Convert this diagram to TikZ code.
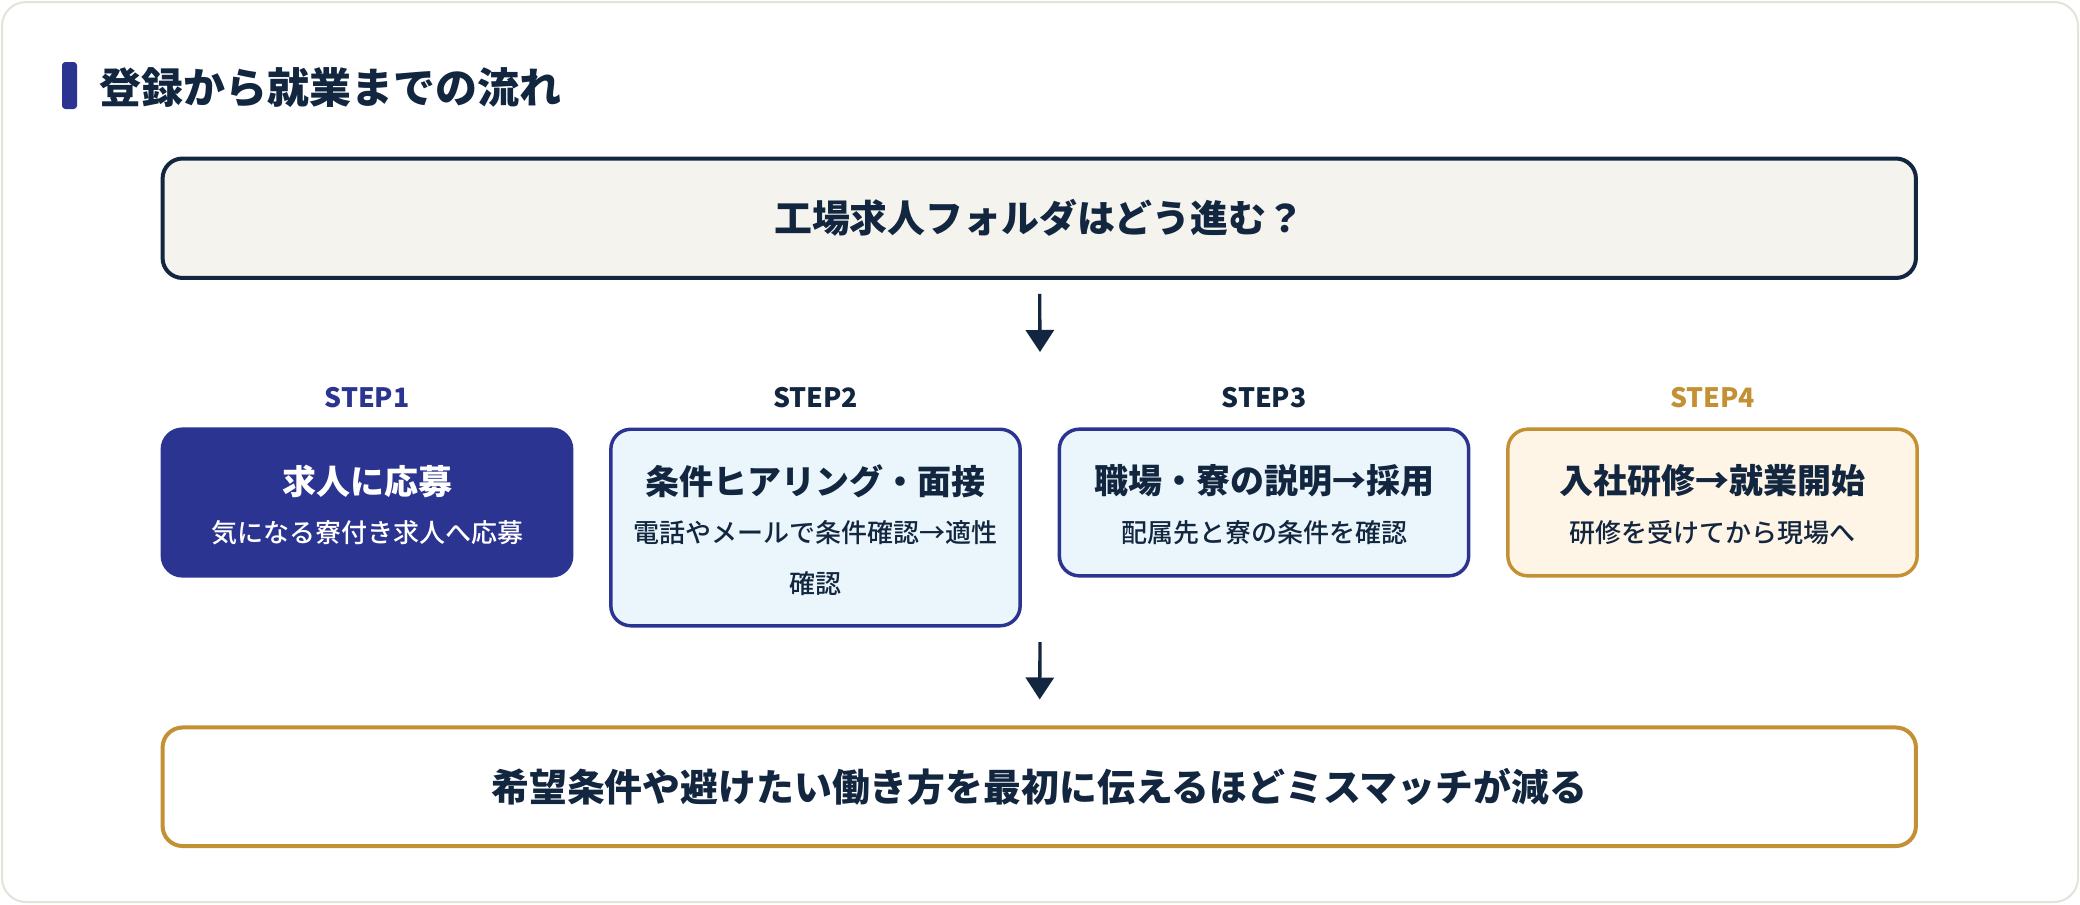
\documentclass[tikz,border=0pt]{standalone}
\usepackage{fontspec}
\setmainfont{Noto Sans CJK JP}
\newfontfamily\jpmed{Noto Sans CJK JP Medium}
\usetikzlibrary{arrows.meta}
\definecolor{navy}{HTML}{12263F}
\definecolor{indigo}{HTML}{2B3491}
\definecolor{gold}{HTML}{C49034}
\definecolor{lightblue}{HTML}{EAF6FC}
\definecolor{cream}{HTML}{FFF5E6}
\definecolor{topfill}{HTML}{F4F3EE}
\definecolor{cardline}{HTML}{E5E2D8}
\tikzset{
  stepbox/.style={rounded corners=15pt, line width=2.6pt, minimum width=307pt, minimum height=110pt, inner sep=0pt},
  widebox/.style={rounded corners=15pt, line width=3pt, minimum width=1315pt, inner sep=0pt, text=navy,
    font=\bfseries\fontsize{28.4pt}{34pt}\selectfont},
  ttl/.style={font=\bfseries\fontsize{25.5pt}{30pt}\selectfont, inner sep=0pt},
  sub/.style={font=\jpmed\fontsize{19.5pt}{38.25pt}\selectfont, inner sep=0pt, align=center},
  steplbl/.style={font=\bfseries\fontsize{20pt}{24pt}\selectfont, inner sep=0pt},
  flow/.style={draw=navy, line width=2.5pt, -{Triangle[length=16.5pt,width=21pt]}},
}
\begin{document}
\begin{tikzpicture}[x=0.75pt,y=-0.75pt]
\fill[white] (0,0) rectangle (2080,904);
\useasboundingbox (0,0) rectangle (2080,904);
% outer card
\draw[cardline, fill=white, line width=1.5pt, rounded corners=18pt] (2,2) rectangle (2078,902);
% heading
\fill[indigo, rounded corners=2.5pt] (62,62) rectangle (77,109);
\node[anchor=west, inner sep=0pt, text=navy, font=\bfseries\fontsize{31.5pt}{36pt}\selectfont] (ht) at (99,88) {登録から就業までの流れ};
% top question box
\node[widebox, draw=navy, fill=topfill, minimum height=89.6pt] (q) at (1039.25,218.25) {工場求人フォルダはどう進む？};
% step labels
\node[steplbl, text=indigo] (l1) at (367,398) {STEP1};
\node[steplbl, text=navy] (l2) at (815.5,398) {STEP2};
\node[steplbl, text=navy] (l3) at (1264,398) {STEP3};
\node[steplbl, text=gold] (l4) at (1712.5,398) {STEP4};
% step boxes
\node[stepbox, draw=indigo, fill=indigo] (s1) at (367,502.5) {};
\node[stepbox, draw=indigo, fill=lightblue, minimum height=147.4pt] (s2) at (815.5,527.5) {};
\node[stepbox, draw=indigo, fill=lightblue] (s3) at (1264,502.5) {};
\node[stepbox, draw=gold, fill=cream] (s4) at (1712.5,502.5) {};
% step texts
\node[ttl, text=white] (t1) at (367,481) {求人に応募};
\node[sub, text=white] (d1) at (367,533) {気になる寮付き求人へ応募};
\node[ttl, text=navy] (t2) at (815.5,481) {条件ヒアリング・面接};
\node[sub, text=navy] (d2) at (815.5,558.5) {電話やメールで条件確認→適性\\確認};
\node[ttl, text=navy] (t3) at (1264,481) {職場・寮の説明→採用};
\node[sub, text=navy] (d3) at (1264,533) {配属先と寮の条件を確認};
\node[ttl, text=navy] (t4) at (1712.5,481) {入社研修→就業開始};
\node[sub, text=navy] (d4) at (1712.5,533) {研修を受けてから現場へ};
% bottom box
\node[widebox, draw=gold, fill=white, minimum height=88.9pt] (b) at (1039.25,786.75) {希望条件や避けたい働き方を最初に伝えるほどミスマッチが減る};
% arrows
\coordinate (a1e) at (1040,352);
\coordinate (a2s) at (1040,642);
\draw[flow, shorten <=10.5pt] (q) -- (a1e);
\draw[flow, shorten >=19.5pt] (a2s) -- (b);
\end{tikzpicture}
\end{document}
